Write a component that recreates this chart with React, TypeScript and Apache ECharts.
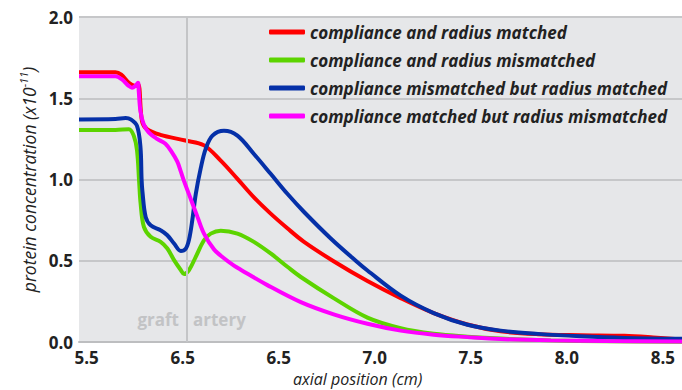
import React, { useEffect, useRef } from "react";
import * as echarts from "echarts";

const seriesNames = [
  "compliance and radius matched",
  "compliance and radius mismatched",
  "compliance mismatched but radius matched",
  "compliance matched but radius mismatched",
];
const seriesColors = ["#ff0000", "#5cd400", "#0530a8", "#ff00ff"];

const redX = [5.46, 5.65, 5.68, 5.72, 5.754, 5.769, 5.788, 5.814, 5.884, 6.014, 6.111, 6.198, 6.285, 6.371, 6.458, 6.545, 6.63, 6.786, 6.962, 7.135, 7.307, 7.483, 7.656, 7.85, 8.07, 8.3, 8.45, 8.6];
const redY = [1.66, 1.66, 1.645, 1.595, 1.575, 1.585, 1.36, 1.31, 1.275, 1.24, 1.21, 1.116, 1.004, 0.89, 0.79, 0.7, 0.618, 0.497, 0.375, 0.27, 0.178, 0.108, 0.066, 0.048, 0.042, 0.038, 0.028, 0.015];

const greenX = [5.46, 5.65, 5.72, 5.745, 5.762, 5.773, 5.781, 5.798, 5.833, 5.885, 5.92, 5.955, 5.99, 6.007, 6.033, 6.068, 6.111, 6.146, 6.198, 6.285, 6.371, 6.458, 6.545, 6.615, 6.786, 6.962, 7.135, 7.307, 7.483, 7.656, 7.917, 8.2, 8.6];
const greenY = [1.305, 1.305, 1.31, 1.27, 1.18, 0.99, 0.85, 0.708, 0.647, 0.616, 0.575, 0.504, 0.443, 0.418, 0.443, 0.524, 0.626, 0.667, 0.685, 0.667, 0.616, 0.545, 0.463, 0.4, 0.27, 0.15, 0.085, 0.051, 0.033, 0.021, 0.01, 0.004, 0.002];

const blueX = [5.46, 5.65, 5.703, 5.729, 5.762, 5.78, 5.786, 5.79, 5.807, 5.833, 5.885, 5.92, 5.955, 5.99, 6.016, 6.033, 6.05, 6.068, 6.094, 6.12, 6.155, 6.215, 6.285, 6.371, 6.458, 6.545, 6.632, 6.771, 6.901, 6.962, 7.135, 7.307, 7.483, 7.656, 7.85, 8.07, 8.3, 8.6];
const blueY = [1.37, 1.372, 1.378, 1.37, 1.33, 1.2, 1.0, 0.93, 0.77, 0.718, 0.688, 0.657, 0.606, 0.56, 0.575, 0.63, 0.75, 0.91, 1.07, 1.19, 1.27, 1.3, 1.27, 1.157, 1.035, 0.912, 0.8, 0.637, 0.5, 0.44, 0.285, 0.178, 0.106, 0.07, 0.05, 0.035, 0.025, 0.02];

const magentaX = [5.46, 5.65, 5.682, 5.719, 5.736, 5.754, 5.767, 5.771, 5.78, 5.797, 5.823, 5.866, 5.91, 5.944, 5.972, 5.99, 6.007, 6.042, 6.077, 6.111, 6.163, 6.215, 6.267, 6.302, 6.441, 6.615, 6.786, 6.962, 7.135, 7.307, 7.483, 7.656, 7.917, 8.2, 8.6];
const magentaY = [1.635, 1.635, 1.617, 1.576, 1.565, 1.576, 1.595, 1.545, 1.42, 1.34, 1.29, 1.25, 1.22, 1.167, 1.11, 1.05, 0.99, 0.88, 0.77, 0.667, 0.57, 0.515, 0.47, 0.445, 0.35, 0.245, 0.17, 0.112, 0.07, 0.045, 0.03, 0.018, 0.01, 0.006, 0.003];

const xTickValues = [5.5, 6.0, 6.5, 7.0, 7.5, 8.0, 8.5];
const xTickLabels = ["5.5", "6.5", "6.5", "7.0", "7.5", "8.0", "8.5"];
const xAxisTitle = "axial position (cm)";
const graftJunction = 6.017;
const regionLabels = ["graft", "artery"];

const FONT = "'Open Sans', 'DejaVu Sans', sans-serif";

export default function App() {
  const ref = useRef<HTMLDivElement>(null);
  useEffect(() => {
    if (!ref.current) return;
    const chart = echarts.init(ref.current, undefined, { renderer: "svg" });
    const xs = [redX, greenX, blueX, magentaX];
    const ys = [redY, greenY, blueY, magentaY];
    const series: any[] = seriesNames.map((name, i) => ({
      name,
      type: "line",
      data: xs[i].map((x, j) => [x, ys[i][j]]),
      smooth: 0.35,
      showSymbol: false,
      symbol: "none",
      lineStyle: { color: seriesColors[i], width: 4 },
      itemStyle: { color: seriesColors[i] },
      z: 3 + i,
    }));
    series[0].markLine = {
      silent: true,
      symbol: "none",
      label: { show: false },
      lineStyle: { color: "#c4c5c7", width: 2, type: "solid" },
      data: [{ xAxis: graftJunction }],
    };
    chart.setOption({
      animation: false,
      textStyle: { fontFamily: FONT },
      grid: {
        left: 79,
        right: 0,
        top: 17,
        bottom: 48,
        show: true,
        backgroundColor: "#e6e7e9",
        borderWidth: 0,
        containLabel: false,
        outerBoundsMode: "none",
      },
      legend: {
        orient: "vertical",
        left: 269,
        top: 23,
        padding: 0,
        icon: "roundRect",
        itemWidth: 36,
        itemHeight: 5,
        itemGap: 10,
        textStyle: {
          fontFamily: FONT,
          fontSize: 17,
          fontStyle: "italic",
          fontWeight: "bold",
          color: "#222222",
          lineHeight: 18,
        },
        data: seriesNames,
      },
      xAxis: {
        type: "value",
        min: 5.46,
        max: 8.6,
        axisLine: { show: true, lineStyle: { color: "#bdbec0", width: 2 } },
        axisTick: { show: false, customValues: xTickValues },
        splitLine: { show: false },
        axisLabel: {
          customValues: xTickValues,
          margin: 6,
          fontFamily: FONT,
          fontSize: 17,
          fontWeight: "bold",
          color: "#222222",
          lineHeight: 18,
          formatter: (v: number) => {
            const k = xTickValues.findIndex((t) => Math.abs(t - v) < 1e-6);
            return k >= 0 ? xTickLabels[k] : "";
          },
        },
      },
      yAxis: {
        type: "value",
        min: 0,
        max: 2,
        interval: 0.5,
        name: "{a|protein concentration (x10}{b|-11}{a|)}",
        nameLocation: "middle",
        nameGap: 38,
        nameTextStyle: {
          rich: {
            a: { fontFamily: FONT, fontSize: 17.5, fontStyle: "italic", color: "#222222", lineHeight: 22 },
            b: { fontFamily: FONT, fontSize: 11, fontStyle: "italic", color: "#222222", verticalAlign: "top", lineHeight: 14 },
          },
        },
        axisLine: { show: false },
        axisTick: { show: false },
        splitLine: { show: true, lineStyle: { color: "#c6c7c9", width: 2 } },
        axisLabel: {
          margin: 6,
          fontFamily: FONT,
          fontSize: 17,
          fontWeight: "bold",
          color: "#222222",
          formatter: (v: number) => v.toFixed(1),
        },
      },
      graphic: [
        {
          type: "text",
          left: 293,
          top: 371,
          style: { text: xAxisTitle, fontFamily: FONT, fontSize: 16, fontStyle: "italic", fill: "#222222" },
        },
        {
          type: "text",
          right: 682 - 179,
          top: 311,
          style: { text: regionLabels[0], fontFamily: FONT, fontSize: 17, fontWeight: "bold", fill: "#c2c3c5", textAlign: "right" },
        },
        {
          type: "text",
          left: 193,
          top: 311,
          style: { text: regionLabels[1], fontFamily: FONT, fontSize: 17, fontWeight: "bold", fill: "#c2c3c5" },
        },
      ],
      series,
    });
    return () => chart.dispose();
  }, []);
  return (
    <div
      ref={ref}
      style={{ position: "fixed", left: 0, top: 0, width: 682, height: 390, background: "#ffffff" }}
    />
  );
}
